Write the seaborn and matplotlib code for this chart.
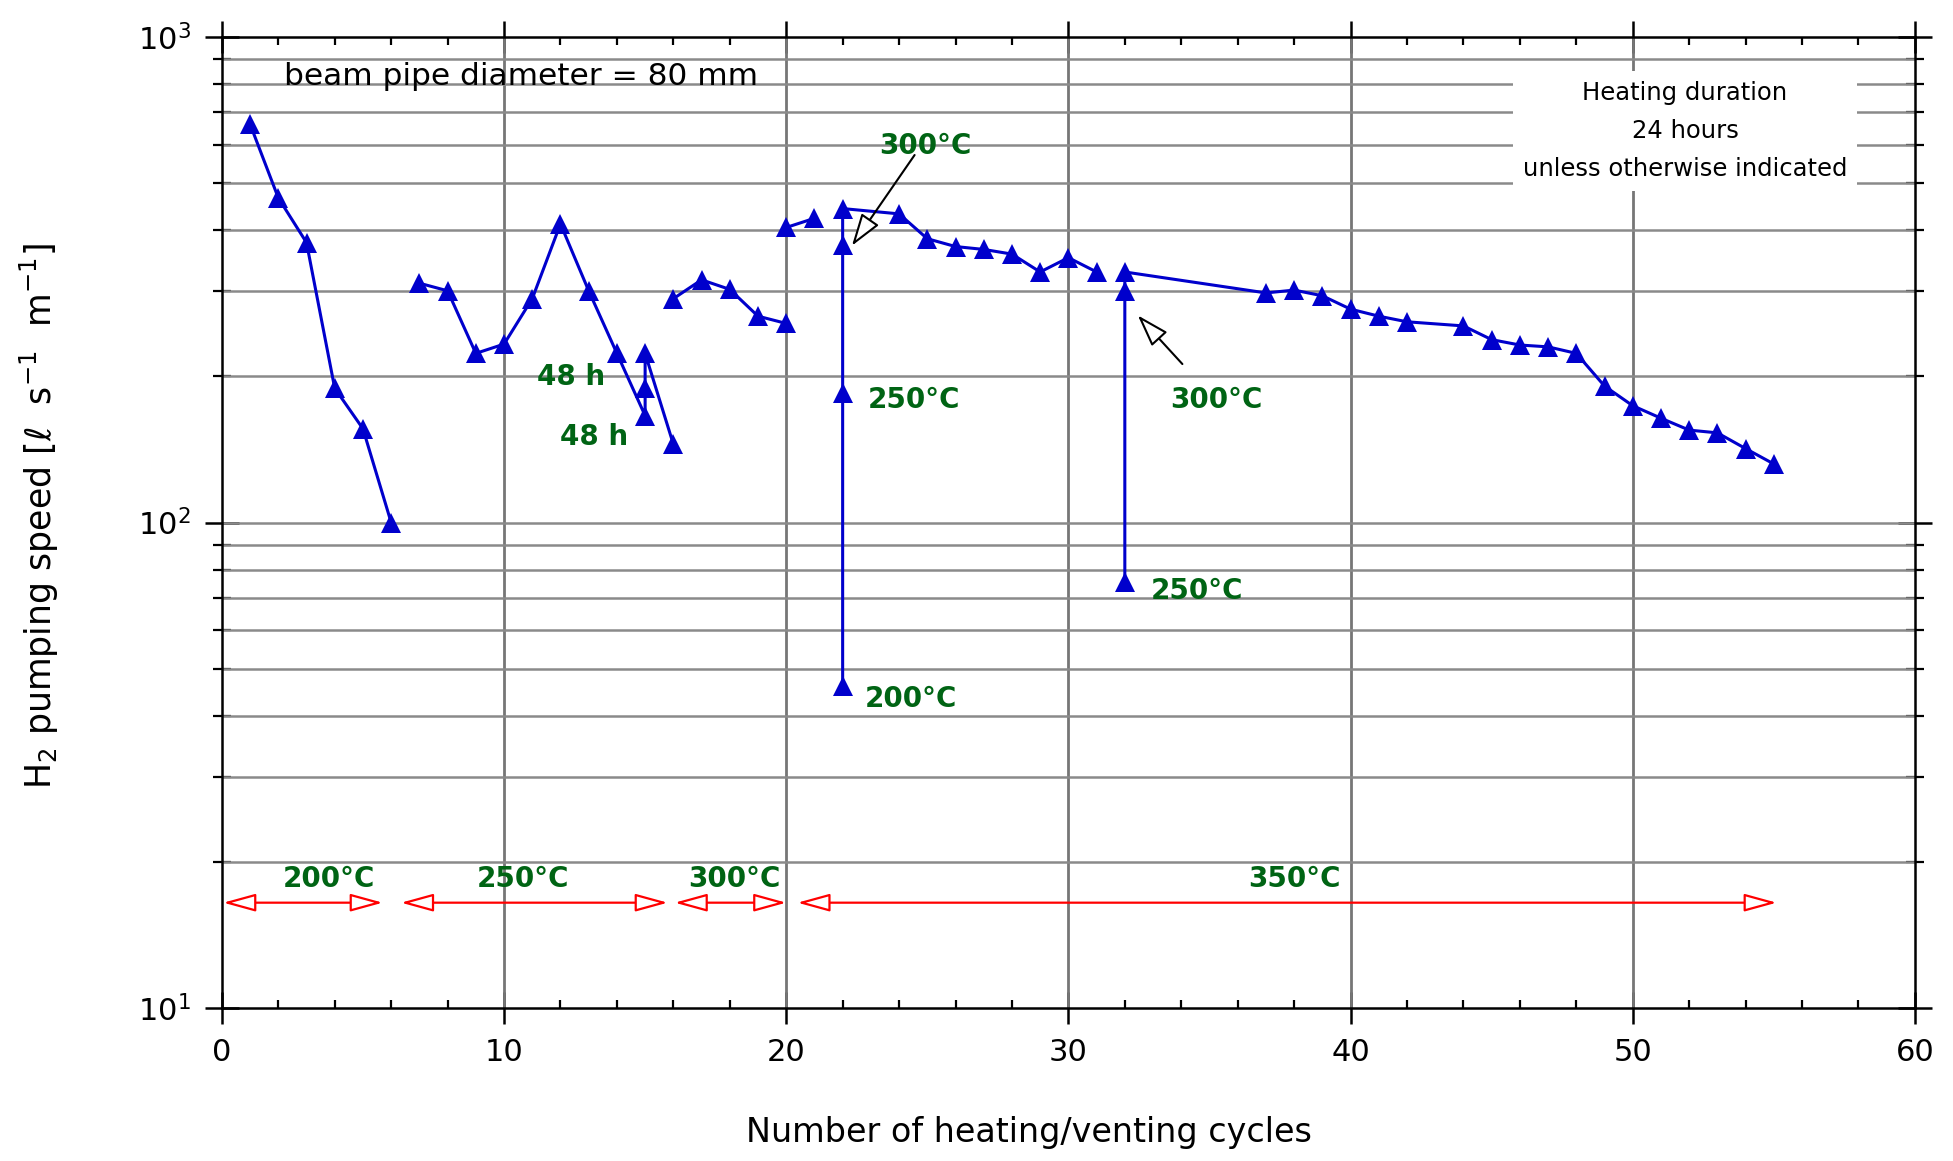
import numpy as np
import pandas as pd
import matplotlib
matplotlib.use("Agg")
import matplotlib.pyplot as plt
from matplotlib.ticker import LogLocator, NullFormatter, MultipleLocator
from matplotlib.patches import FancyArrowPatch
import seaborn as sns

# ---------------- data ----------------
seg_a_x = [1, 2, 3, 4, 5, 6]
seg_a_y = [661, 466, 377, 189, 156, 100]

seg_b_x = [7, 8, 9, 10, 11, 12, 13, 14, 15, 15, 15, 16]
seg_b_y = [311, 300, 223, 233, 289, 412, 300, 223, 166, 189, 223, 145]

seg_c_x = [16, 17, 18, 19, 20]
seg_c_y = [289, 316, 302, 266, 257]

seg_d_x = [20, 21]
seg_d_y = [405, 423]

seg_e_x = [22, 22, 22, 22, 24, 25, 26, 27, 28, 29, 30, 31]
seg_e_y = [46, 185, 373, 443, 432, 384, 370, 365, 357, 328, 351, 328]

seg_f_x = [32, 32, 32, 37, 38, 39, 40, 41, 42, 44, 45, 46, 47, 48, 49, 50,
           51, 52, 53, 54, 55]
seg_f_y = [75.6, 300, 328, 297, 301, 293, 275, 266, 259, 254, 238, 232, 230,
           223, 191, 174, 164, 155, 153, 142, 132]

segments = [(seg_a_x, seg_a_y), (seg_b_x, seg_b_y), (seg_c_x, seg_c_y),
            (seg_d_x, seg_d_y), (seg_e_x, seg_e_y), (seg_f_x, seg_f_y)]

# temperature ranges (bottom red arrows)
range_labels = ["200°C", "250°C", "300°C", "350°C"]
range_start = [0.05, 6.35, 16.05, 20.4]
range_end = [5.7, 15.8, 20.0, 55.1]
range_label_x = [3.8, 10.67, 18.15, 38.0]

# in-plot temperature / duration labels
point_labels = ["300°C", "250°C", "300°C", "250°C", "200°C", "48 h", "48 h"]
point_label_x = [24.92, 24.53, 35.26, 34.56, 24.42, 12.38, 13.18]
point_label_y = [575, 172, 172, 69.5, 41.8, 192, 144.4]

rows = []
for i, (xs, ys) in enumerate(segments):
    for j, (xv, yv) in enumerate(zip(xs, ys)):
        rows.append({"cycle": xv, "speed": yv, "seg": i, "order": j})
df = pd.DataFrame(rows)

# ---------------- figure ----------------
sns.set_style("white")
plt.rcParams["font.family"] = ["DejaVu Sans"]
plt.rcParams["mathtext.fontset"] = "dejavusans"
plt.rcParams["text.color"] = "black"
plt.rcParams["axes.labelcolor"] = "black"
plt.rcParams["xtick.color"] = "black"
plt.rcParams["ytick.color"] = "black"

fig = plt.figure(figsize=(19.53, 11.61), dpi=100)
ax = fig.add_axes([0.1136, 0.1315, 0.8669, 0.8368])

blue = "#0000CC"
green = "#006414"

sns.lineplot(data=df, x="cycle", y="speed", units="seg", estimator=None,
             sort=False, color=blue, lw=2.2, marker="^", markersize=15,
             markeredgecolor=blue, markeredgewidth=0, ax=ax, zorder=5,
             legend=False)

ax.set_yscale("log")
ax.set_xlim(0, 60)
ax.set_ylim(10, 1000)

ax.xaxis.set_major_locator(MultipleLocator(10))
ax.xaxis.set_minor_locator(MultipleLocator(2))
ax.yaxis.set_major_locator(LogLocator(base=10))
ax.yaxis.set_minor_locator(LogLocator(base=10, subs=np.arange(2, 10)))
ax.yaxis.set_minor_formatter(NullFormatter())

# grid
for v in range(10, 60, 10):
    ax.axvline(v, color="#767676", lw=2.0, zorder=1)
for dec in [10, 100]:
    for s in range(1, 10):
        yv = dec * s
        if 10 < yv < 1000:
            ax.axhline(yv, color="#8a8a8a", lw=1.8, zorder=1)

for sp in ax.spines.values():
    sp.set_linewidth(1.8)
    sp.set_color("black")

ax.tick_params(axis="x", which="major", direction="inout", length=23, width=1.8,
               top=True, bottom=True, labelsize=22, pad=10, color="black")
ax.tick_params(axis="x", which="minor", direction="in", length=6, width=1.6,
               top=True, bottom=True)
ax.tick_params(axis="y", which="major", direction="inout", length=25, width=1.8,
               left=True, right=True, labelsize=22, pad=10)
ax.tick_params(axis="y", which="minor", direction="inout", length=13, width=1.6,
               left=True, right=True)

ax.set_xlabel("Number of heating/venting cycles", fontsize=24)
ax.xaxis.label.set_va("center")
ax.xaxis.set_label_coords(0.4767, -0.128)
ax.set_ylabel(r"H$_2$ pumping speed [$\ell$  s$^{-1}$  m$^{-1}$]", fontsize=25)
ax.yaxis.label.set_va("center")
ax.yaxis.set_label_coords(-0.108, 0.507)

# annotations
ax.text(2.2, 794, "beam pipe diameter = 80 mm", fontsize=22.5, ha="left",
        va="baseline", zorder=6)
ax.text(51.85, 640, "Heating duration\n24 hours\nunless otherwise indicated",
        fontsize=17.5, ha="center", va="center", multialignment="center",
        linespacing=1.75, zorder=6,
        bbox=dict(boxstyle="square,pad=0.4", fc="white", ec="none"))

for lab, lx, ly in zip(point_labels, point_label_x, point_label_y):
    ax.text(lx, ly, lab, color=green, fontsize=20, fontweight="bold",
            ha="center", va="baseline", zorder=6)

for lab, x0, x1, lx in zip(range_labels, range_start, range_end, range_label_x):
    arr = FancyArrowPatch((x0, 16.5), (x1, 16.5),
                          arrowstyle="<|-|>,head_length=20,head_width=5.5",
                          mutation_scale=1, shrinkA=0, shrinkB=0,
                          ec="red", fc="white", lw=1.6, zorder=6)
    ax.add_patch(arr)
    ax.text(lx, 17.77, lab, color=green, fontsize=20, fontweight="bold",
            ha="center", va="baseline", zorder=6)

for (tx, ty), (hx, hy) in [((24.55, 571), (22.33, 371.5)),
                           ((34.04, 212), (32.46, 267))]:
    arr = FancyArrowPatch((tx, ty), (hx, hy),
                          arrowstyle="-|>,head_length=20,head_width=6.5",
                          mutation_scale=1, shrinkA=0, shrinkB=0,
                          ec="black", fc="white", lw=1.5, zorder=7)
    ax.add_patch(arr)

fig.savefig("out.png", dpi=100)
